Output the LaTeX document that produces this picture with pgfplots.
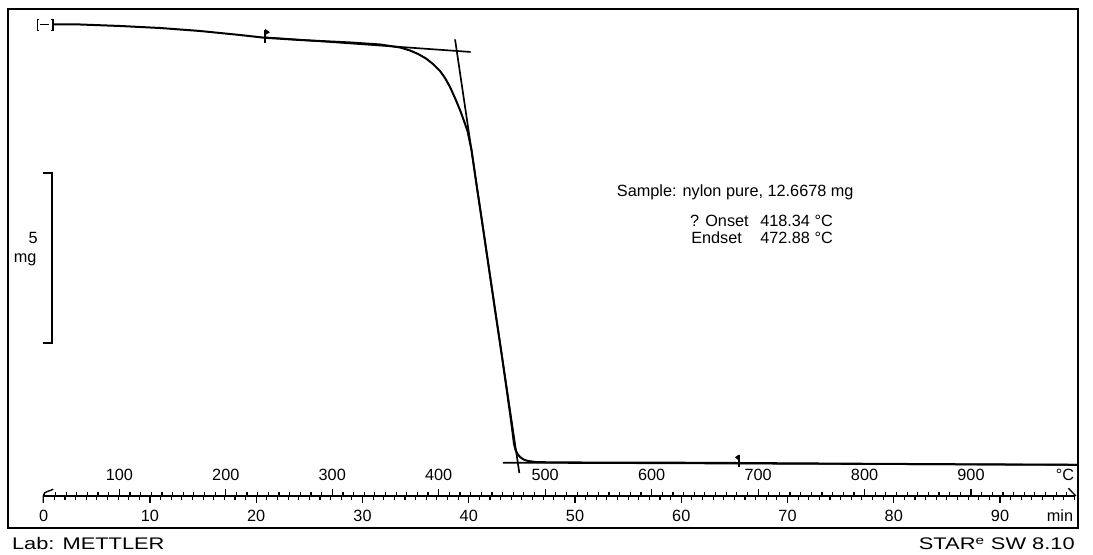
\documentclass[border=0pt]{standalone}
\usepackage{fontspec}
\setmainfont{Liberation Sans}
\usepackage{graphicx}
\usepackage{pgfplots}
\pgfplotsset{compat=1.18}

\newcommand\f{\fontsize{12.2pt}{14pt}\selectfont}

\begin{document}
\begin{tikzpicture}
\path[use as bounding box] (-6pt,-20.25pt) rectangle (813.75pt,396pt);

% main frame: x = time (min), y = mass (mg)
\begin{axis}[
    name=main, at={(0,0)}, anchor=south west,
    scale only axis, width=802.5pt, height=389.25pt,
    xmin=-3.365, xmax=97.341, ymin=-1.921, ymax=13.344,
    xtick=\empty, ytick=\empty,
    axis line style={line width=1.5pt},
    clip=false,
]
% TGA curve
\addplot[black, line width=1.5pt, line join=round] coordinates {
    (0.871,12.888) (3.412,12.888) (7.176,12.844) (10.941,12.785)
    (14.706,12.697) (18.471,12.579) (20.824,12.497) (24.118,12.432)
    (28.824,12.359) (31.647,12.300) (33.529,12.212) (34.471,12.124)
    (35.224,12.021) (35.976,11.888) (36.635,11.726) (37.294,11.521)
    (37.765,11.315) (38.235,11.050) (38.706,10.726) (39.176,10.374)
    (39.553,10.050) (39.882,9.756) (40.259,9.197) (40.776,8.079)
    (41.341,6.903) (41.906,5.697) (42.471,4.491) (43.035,3.315)
    (43.506,2.285) (43.882,1.462) (44.118,0.903) (44.259,0.550)
    (44.400,0.374) (44.588,0.256) (44.824,0.168) (45.153,0.094)
    (45.576,0.050) (46.235,0.021) (47.647,0.009) (52.353,0.003)
    (61.765,-0.003) (71.176,-0.021) (80.588,-0.038) (90.000,-0.053)
    (97.247,-0.062)
};
% tangents
\addplot[black, line width=1.25pt] coordinates {(20.824,12.51) (40.18,12.08)};
\addplot[black, line width=1.25pt] coordinates {(38.71,12.45) (44.76,-0.303)};
\addplot[black, line width=1.25pt] coordinates {(43.20,0.0) (97.34,-0.062)};

% flags
\draw[line width=1pt] (axis cs:20.824,12.74) -- (axis cs:20.824,12.35);
\fill (axis cs:20.824,12.76) -- (axis cs:21.30,12.66) -- (axis cs:20.824,12.57) -- cycle;
\draw[line width=1pt] (axis cs:65.435,0.24) -- (axis cs:65.435,-0.13);
\fill (axis cs:65.435,0.24) -- (axis cs:65.05,0.16) -- (axis cs:65.435,0.06) -- cycle;

% start bracket
\draw[line width=0.8pt] (axis cs:-0.447,13.03) -- (axis cs:-0.632,13.03) -- (axis cs:-0.632,12.72) -- (axis cs:-0.447,12.72);
\draw[line width=0.8pt] (axis cs:-0.353,12.874) -- (axis cs:0.494,12.874);
\draw[line width=0.8pt] (axis cs:0.682,13.03) -- (axis cs:0.871,13.03) -- (axis cs:0.871,12.72) -- (axis cs:0.682,12.72);

% 5 mg scale bar
\draw[line width=1.2pt] (axis cs:-0.04,8.52) -- (axis cs:0.80,8.52) -- (axis cs:0.80,3.52) -- (axis cs:-0.04,3.52);
\node[font=\f, inner sep=0pt] at (axis cs:-1.0,6.60) {5};
\node[font=\f, inner sep=0pt] at (axis cs:-1.75,5.98) {mg};

% annotation
\node[font=\f, anchor=base west, inner sep=0pt] at (axis cs:53.92,7.824) {Sample: nylon pure, 12.6678 mg};
\node[font=\f, anchor=base west, inner sep=0pt] at (axis cs:60.82,6.941) {? Onset};
\node[font=\f, anchor=base west, inner sep=0pt] at (axis cs:67.41,6.941) {418.34 °C};
\node[font=\f, anchor=base west, inner sep=0pt] at (axis cs:60.92,6.453) {Endset};
\node[font=\f, anchor=base west, inner sep=0pt] at (axis cs:67.41,6.453) {472.88 °C};

% ruler start hook and end stroke
\draw[line width=1pt] (axis cs:-0.04,-1.18) -- (axis cs:-0.04,-0.979) to[out=90,in=210] (axis cs:0.9,-0.78);
\draw[line width=1pt] (axis cs:96.43,-0.752) -- (axis cs:97.15,-0.979);
\end{axis}

% time ruler (min), ticks below
\begin{axis}[
    at={(26.8125pt,24pt)}, anchor=south west,
    scale only axis, width=773.53pt, height=1pt,
    xmin=0, xmax=97.07, ymin=0, ymax=1,
    axis x line=bottom, axis y line=none,
    x axis line style={-, line width=1.1pt},
    xtick={0,10,...,90}, minor xtick={1,...,97},
    xticklabels={},
    tick align=outside,
    major tick length=5.25pt, minor tick length=3pt,
    every tick/.style={black, line width=0.9pt},
    clip=false,
]
\pgfplotsinvokeforeach{0,10,...,90}{
  \node[font=\f, anchor=base, yshift=-19.3pt] at (axis cs:#1,0) {#1};
}
\node[font=\f, anchor=base, yshift=-19.3pt] at (axis cs:95.65,0) {min};
\end{axis}

% temperature ruler (degC), ticks above
\begin{axis}[
    at={(26.8125pt,24pt)}, anchor=north west,
    scale only axis, width=773.53pt, height=1pt,
    xmin=29, xmax=997.8, ymin=0, ymax=1,
    axis x line=top, axis y line=none,
    x axis line style={-, line width=1.1pt},
    xtick={100,200,...,900}, minor xtick={30,40,...,990},
    xticklabels={},
    tick align=outside,
    major tick length=5.25pt, minor tick length=3pt,
    every tick/.style={black, line width=0.9pt},
    clip=false,
]
\pgfplotsinvokeforeach{100,200,...,900}{
  \node[font=\f, anchor=base, yshift=11.5pt] at (axis cs:#1,1) {#1};
}
\node[font=\f, anchor=base, yshift=11.5pt] at (axis cs:988.3,1) {°C};
\end{axis}

% footer
\node[font=\fontsize{12.6pt}{14pt}\selectfont, anchor=base west, inner sep=0pt] at (2.8pt,-16.5pt) {\scalebox{1.3}[1]{Lab: METTLER}};
\node[font=\fontsize{12.6pt}{14pt}\selectfont, anchor=base east, inner sep=0pt] at (800.25pt,-16.5pt) {\scalebox{1.3}[1]{STAR\textsuperscript{e} SW 8.10}};
\end{tikzpicture}
\end{document}
